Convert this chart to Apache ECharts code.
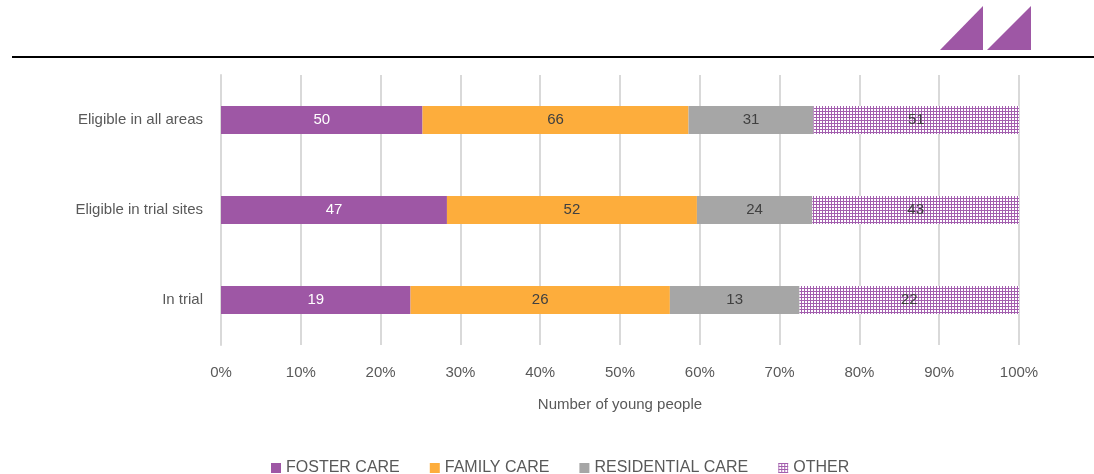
<!DOCTYPE html>
<html>
<head>
<meta charset="utf-8">
<script src="https://cdn.jsdelivr.net/npm/echarts@6/dist/echarts.min.js"></script>
<style>
  html, body { margin: 0; padding: 0; background: #fff; }
  #chart { width: 1094px; height: 474px; }
</style>
</head>
<body>
<div id="chart"></div>
<script>
var categories = ['Eligible in all areas', 'Eligible in trial sites', 'In trial'];
var fosterCare = [50, 47, 19];
var familyCare = [66, 52, 26];
var residentialCare = [31, 24, 13];
var other = [51, 43, 22];
var tickLabels = ['0%', '10%', '20%', '30%', '40%', '50%', '60%', '70%', '80%', '90%', '100%'];

var font = '"Liberation Sans", Arial, sans-serif';
var textColor = '#595959';

// dotted pattern for OTHER
var pat = document.createElement('canvas');
pat.width = 3;
pat.height = 3;
var ctx = pat.getContext('2d');
ctx.fillStyle = '#ffffff';
ctx.fillRect(0, 0, 3, 3);
ctx.fillStyle = '#a35fae';
ctx.fillRect(0, 0, 3, 1);
ctx.fillRect(0, 0, 1, 3);

var totals = categories.map(function (c, i) {
    return fosterCare[i] + familyCare[i] + residentialCare[i] + other[i];
});
function pct(arr) {
    return arr.map(function (v, i) { return { value: v / totals[i] * 100, raw: v }; });
}

function makeSeries(name, arr, color, labelColor) {
    return {
        name: name,
        type: 'bar',
        stack: 'total',
        barWidth: 28,
        data: pct(arr),
        itemStyle: { color: color },
        label: {
            show: true,
            position: 'inside',
            color: labelColor,
            fontFamily: font,
            fontSize: 15,
            formatter: function (p) { return p.data.raw; }
        }
    };
}

var myChart = echarts.init(document.getElementById('chart'));
var option = {
    animation: false,
    grid: { left: 221, right: 75, top: 75, bottom: 129 },
    legend: {
        left: 266,
        top: 455,
        icon: 'rect',
        itemWidth: 10,
        itemHeight: 10,
        itemGap: 30,
        textStyle: { color: textColor, fontFamily: font, fontSize: 16 },
        data: ['FOSTER CARE', 'FAMILY CARE', 'RESIDENTIAL CARE', 'OTHER']
    },
    xAxis: {
        type: 'value',
        min: 0,
        max: 100,
        interval: 10,
        name: 'Number of young people',
        nameLocation: 'middle',
        nameGap: 52,
        nameTextStyle: { color: textColor, fontFamily: font, fontSize: 15 },
        axisLabel: {
            color: textColor, fontFamily: font, fontSize: 15, margin: 20,
            formatter: function (v) { return tickLabels[Math.round(v / 10)]; }
        },
        axisLine: { show: false },
        axisTick: { show: false },
        splitLine: { show: true, lineStyle: { color: '#d9d9d9', width: 2 } }
    },
    yAxis: {
        type: 'category',
        inverse: true,
        data: categories,
        axisLine: { show: true, lineStyle: { color: '#d9d9d9', width: 2 } },
        axisTick: { show: false },
        axisLabel: { color: textColor, fontFamily: font, fontSize: 15, margin: 18 }
    },
    graphic: [
        { type: 'rect', shape: { x: 12, y: 56, width: 1082, height: 2 }, style: { fill: '#000' } },
        { type: 'polygon', shape: { points: [[940, 50], [983, 6], [983, 50]] }, style: { fill: '#9e57a5' } },
        { type: 'polygon', shape: { points: [[987, 50], [1031, 6], [1031, 50]] }, style: { fill: '#9e57a5' } }
    ],
    series: [
        makeSeries('FOSTER CARE', fosterCare, '#9e57a5', '#ffffff'),
        makeSeries('FAMILY CARE', familyCare, '#fdad3c', '#404040'),
        makeSeries('RESIDENTIAL CARE', residentialCare, '#a6a6a6', '#404040'),
        makeSeries('OTHER', other, { image: pat, repeat: 'repeat' }, '#404040')
    ]
};
myChart.setOption(option);
window.addEventListener('resize', function () { myChart.resize(); });
</script>
</body>
</html>
